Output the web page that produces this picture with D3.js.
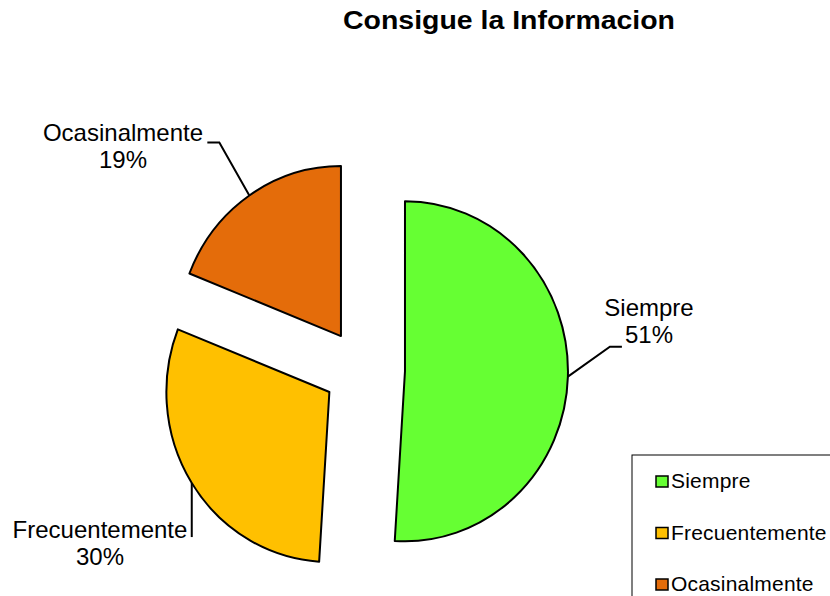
<!DOCTYPE html>
<html><head><meta charset="utf-8">
<script src="https://cdn.jsdelivr.net/npm/d3@7"></script>
<style>body{margin:0;background:#fff}svg{display:block}</style>
</head><body>
<svg id="chart" width="830" height="596"></svg>
<script>
const title = "Consigue la Informacion";
const categories = ["Siempre", "Frecuentemente", "Ocasinalmente"];
const values = [51, 30, 19];
const colors = ["#66FF33", "#FFC000", "#E46C0A"];

// layout (not data)
const W = 830, H = 596;
const cx = 364, cy = 370, RY = 170, RX = 163, explode = 41;
const font = "'Liberation Sans', Arial, sans-serif";
const labelLayout = [
  {elbow: [42, -30], end: [54, -30], text: [649, 316]},
  {elbow: [0, 54], end: [0, 54], text: [100, 538]},
  {elbow: [-30, -53], end: [-42, -53], text: [123, 141]}
];

const svg = d3.select("#chart");
svg.append("rect").attr("width", W).attr("height", H).attr("fill", "#fff");

svg.append("text").attr("x", 509).attr("y", 29).attr("text-anchor", "middle")
  .attr("font-family", font).attr("font-weight", "bold").attr("font-size", 25)
  .attr("textLength", 332).attr("lengthAdjust", "spacingAndGlyphs").text(title);

const total = d3.sum(values);
const pie = d3.pie().sort(null).value(d => d.v);
const arcs = pie(categories.map((c, i) => ({c, v: values[i], col: colors[i]})));
const arc = d3.arc().innerRadius(0).outerRadius(RY);

arcs.forEach((a, i) => {
  const mid = (a.startAngle + a.endAngle) / 2;
  const ox = Math.sin(mid) * explode, oy = -Math.cos(mid) * explode;
  svg.append("g").attr("transform", `translate(${cx + ox},${cy + oy}) scale(${RX / RY},1)`)
    .append("path").attr("d", arc(a)).attr("fill", a.data.col)
    .attr("stroke", "#000").attr("stroke-width", 2).attr("stroke-linejoin", "round")
    .attr("vector-effect", "non-scaling-stroke");
  const px = cx + ox + Math.sin(mid) * RX, py = cy + oy - Math.cos(mid) * RY;
  const L = labelLayout[i];
  svg.append("polyline")
    .attr("points", [[px, py], [px + L.elbow[0], py + L.elbow[1]], [px + L.end[0], py + L.end[1]]].map(p => p.join(",")).join(" "))
    .attr("fill", "none").attr("stroke", "#000").attr("stroke-width", 2);
  const t = svg.append("text").attr("text-anchor", "middle").attr("font-family", font)
    .attr("font-size", 24).attr("fill", "#000");
  t.append("tspan").attr("x", L.text[0]).attr("y", L.text[1]).text(a.data.c);
  t.append("tspan").attr("x", L.text[0]).attr("y", L.text[1] + 27)
    .text(Math.round(a.data.v / total * 100) + "%");
});

// legend
const lg = svg.append("g");
lg.append("rect").attr("x", 632).attr("y", 455).attr("width", 220).attr("height", 170)
  .attr("fill", "#fff").attr("stroke", "#000").attr("stroke-width", 1);
categories.forEach((c, i) => {
  const y = 476 + i * 51.5;
  lg.append("rect").attr("x", 656).attr("y", y).attr("width", 12).attr("height", 11)
    .attr("fill", colors[i]).attr("stroke", "#000").attr("stroke-width", 1.5);
  lg.append("text").attr("x", 671).attr("y", y + 12).attr("font-family", font)
    .attr("font-size", 21).attr("letter-spacing", 0.2).text(c);
});
</script>
</body></html>
